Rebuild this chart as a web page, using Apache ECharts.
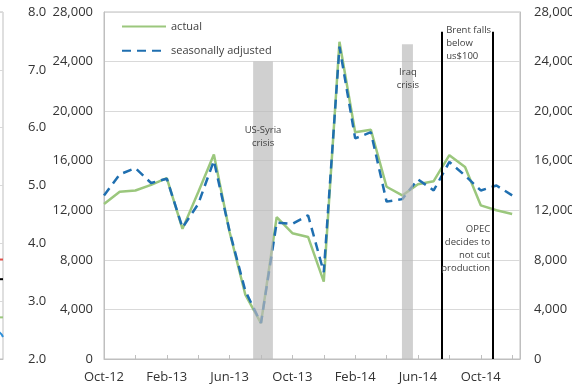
<!DOCTYPE html>
<html>
<head>
<meta charset="utf-8">
<script src="https://cdn.jsdelivr.net/npm/echarts@6/dist/echarts.min.js"></script>
<style>
  html, body { margin: 0; padding: 0; background: #fff; }
  #chart { width: 572px; height: 388px; }
</style>
</head>
<body>
<div id="chart"></div>
<script>
// Monthly categories, Oct-12 .. Dec-14 (x value = month index)
const months = ['Oct-12','Nov-12','Dec-12','Jan-13','Feb-13','Mar-13','Apr-13','May-13','Jun-13','Jul-13','Aug-13','Sep-13',
  'Oct-13','Nov-13','Dec-13','Jan-14','Feb-14','Mar-14','Apr-14','May-14','Jun-14','Jul-14','Aug-14','Sep-14',
  'Oct-14','Nov-14','Dec-14'];

const actual = [12500, 13500, 13600, 14050, 14600, 10500, 13450, 16500, 10250, 5200, 2900, 11450, 10150, 9850,
  6250, 25600, 18300, 18500, 13900, 13200, 14100, 14350, 16450, 15500, 12400, 12000, 11700];

const seasonallyAdjusted = [13200, 14900, 15400, 14200, 14550, 10600, 12500, 16000, 10300, 5500, 2900, 11000, 10900, 11600,
  7000, 25200, 17800, 18300, 12700, 12900, 14500, 13600, 15900, 14800, 13600, 14000, 13200];

const yTicks = [0, 4000, 8000, 12000, 16000, 20000, 24000, 28000];

// Shaded crisis periods: [from month, to month, height]
const crisisSyria = [9.5, 10.76, 24000];
const crisisIraq = [18.98, 19.68, 25400];
// Event lines: month positions and top value
const eventLines = [21.5, 24.75];
const eventTop = 26400;

// Annotation anchors: [month, value]
const noteSyria = [10.13, 17950];
const noteIraq = [19.36, 22600];
const noteBrent = [21.8, 25500];
const noteOpec = [24.6, 8900];

// Neighbouring panel (right-hand axis 2.0 .. 8.0) line ends
const sideTicks = [2, 3, 4, 5, 6, 7, 8];
const sideRed = [[8, 3.72], [10, 3.72]];
const sideBlack = [[8, 3.38], [10, 3.38]];
const sideGreen = [[8, 2.72], [10, 2.72]];
const sideBlue = [[8, 2.5], [9.4, 2.48], [10, 2.38]];

const pair = (arr) => arr.map((v, i) => [i, v]);
const fmtThousands = (v) => v.toLocaleString('en-US');
const txt = '#333333';
const font = 'Open Sans';

const chart = echarts.init(document.getElementById('chart'), null, { renderer: 'canvas' });

const noteLabel = (align) => ({
  show: true, position: 'inside', align: align, verticalAlign: 'middle',
  fontFamily: font, fontSize: 9.5, lineHeight: 13, color: '#404040',
  formatter: (p) => p.name
});

chart.setOption({
  animation: false,
  textStyle: { fontFamily: font },
  legend: {
    data: ['actual', 'seasonally adjusted'],
    orient: 'vertical', left: 116, top: 16,
    itemWidth: 44, itemHeight: 14, itemGap: 13,
    itemStyle: { opacity: 0 },
    textStyle: { fontFamily: font, fontSize: 11, color: '#404040' }
  },
  grid: [
    { left: 104, right: 52, top: 12, bottom: 29, show: true, borderColor: '#bfbfbf', borderWidth: 1, outerBoundsMode: 'none' },
    { left: -97, width: 100, top: 12, bottom: 29, show: true, borderColor: '#bfbfbf', borderWidth: 1, outerBoundsMode: 'none' }
  ],
  xAxis: [
    {
      type: 'value', gridIndex: 0, min: 0, max: 26.5, interval: 2,
      axisLine: { show: true, lineStyle: { color: '#bfbfbf', width: 1 } },
      axisTick: { show: true, inside: true, length: 4, lineStyle: { color: '#bfbfbf' } },
      splitLine: { show: false },
      axisLabel: {
        margin: 12, color: txt, fontFamily: font, fontSize: 13,
        showMinLabel: true, showMaxLabel: false,
        formatter: (v) => (Number.isInteger(v) && v % 4 === 0 && months[v]) ? months[v] : ''
      }
    },
    {
      type: 'value', gridIndex: 1, min: 0, max: 10,
      axisLine: { show: true, lineStyle: { color: '#bfbfbf' } },
      axisTick: { show: false }, axisLabel: { show: false }, splitLine: { show: false }
    }
  ],
  yAxis: [
    {
      type: 'value', gridIndex: 0, position: 'left', min: yTicks[0], max: yTicks[yTicks.length - 1], interval: 4000,
      axisLine: { show: true, lineStyle: { color: '#bfbfbf' } },
      axisTick: { show: false },
      splitLine: { show: true, lineStyle: { color: '#d9d9d9', width: 1 } },
      axisLabel: { margin: 11, color: txt, fontFamily: font, fontSize: 13, formatter: fmtThousands }
    },
    {
      type: 'value', gridIndex: 0, position: 'right', min: yTicks[0], max: yTicks[yTicks.length - 1], interval: 4000,
      axisLine: { show: true, lineStyle: { color: '#bfbfbf' } },
      axisTick: { show: false },
      splitLine: { show: false },
      axisLabel: { margin: 14, color: txt, fontFamily: font, fontSize: 13, formatter: fmtThousands }
    },
    {
      type: 'value', gridIndex: 1, position: 'right', min: sideTicks[0], max: sideTicks[sideTicks.length - 1], interval: 1,
      axisLine: { show: true, lineStyle: { color: '#bfbfbf' } },
      axisTick: { show: false },
      splitLine: { show: true, lineStyle: { color: '#d9d9d9' } },
      axisLabel: { margin: 25, color: txt, fontFamily: font, fontSize: 13, formatter: (v) => v.toFixed(1) }
    }
  ],
  series: [
    {
      name: 'actual', type: 'line', xAxisIndex: 0, yAxisIndex: 0, z: 2,
      data: pair(actual), symbol: 'none', color: '#9bc77d',
      lineStyle: { color: '#9bc77d', width: 2.5 },
      markArea: {
        silent: true, z: 4,
        itemStyle: { color: 'rgba(185,185,185,0.68)' },
        label: { show: false },
        data: [
          [{ xAxis: crisisSyria[0], yAxis: 0 }, { xAxis: crisisSyria[1], yAxis: crisisSyria[2] }],
          [{ xAxis: crisisIraq[0], yAxis: 0 }, { xAxis: crisisIraq[1], yAxis: crisisIraq[2] }]
        ]
      },
      markLine: {
        silent: true, z: 5, symbol: ['none', 'none'],
        label: { show: false },
        lineStyle: { color: '#000000', width: 2, type: 'solid' },
        data: eventLines.map((m) => [{ coord: [m, 0] }, { coord: [m, eventTop] }])
      }
    },
    {
      name: 'seasonally adjusted', type: 'line', xAxisIndex: 0, yAxisIndex: 0, z: 3,
      data: pair(seasonallyAdjusted), symbol: 'none', color: '#1f6fb0',
      lineStyle: { color: '#1f6fb0', width: 2.5, type: [9, 6] },
      markPoint: {
        silent: true, z: 6, symbol: 'circle', symbolSize: 0,
        data: [
          { name: 'US-Syria\ncrisis', coord: noteSyria, label: noteLabel('center') },
          { name: 'Iraq\ncrisis', coord: noteIraq, label: noteLabel('center') },
          { name: 'Brent falls\nbelow\nus$100', coord: noteBrent, label: noteLabel('left') },
          { name: 'OPEC\ndecides to\nnot cut\nproduction', coord: noteOpec, label: noteLabel('right') }
        ]
      }
    },
    { name: 'side-red', type: 'line', xAxisIndex: 1, yAxisIndex: 2, data: sideRed, symbol: 'none', lineStyle: { color: '#e0504a', width: 2 } },
    { name: 'side-black', type: 'line', xAxisIndex: 1, yAxisIndex: 2, data: sideBlack, symbol: 'none', lineStyle: { color: '#000000', width: 2 } },
    { name: 'side-green', type: 'line', xAxisIndex: 1, yAxisIndex: 2, data: sideGreen, symbol: 'none', lineStyle: { color: '#9bc77d', width: 2 } },
    { name: 'side-blue', type: 'line', xAxisIndex: 1, yAxisIndex: 2, data: sideBlue, symbol: 'none', smooth: true, lineStyle: { color: '#2e8fd8', width: 2 } }
  ]
});
</script>
</body>
</html>
